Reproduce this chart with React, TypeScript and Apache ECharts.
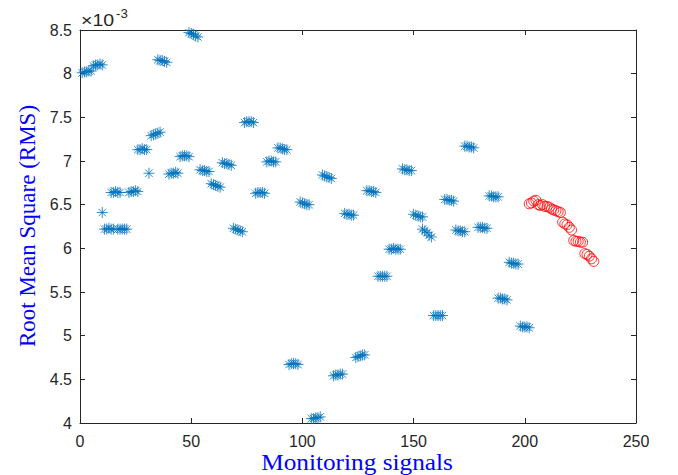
import React, { useEffect, useRef } from "react";
import * as echarts from "echarts";

// Monitoring signal index (blue, training/normal) and RMS value (x 1e-3)
const blueX: number[] = [
  1, 2, 3, 4, 5,
  6, 7, 8, 9, 10,
  10,
  11, 12, 13, 14, 15,
  14, 15, 16, 17, 18,
  17, 18, 19, 20, 21,
  22, 23, 24, 25, 26,
  26, 27, 28, 29, 30,
  31,
  32, 33, 34, 35, 36,
  35, 36, 37, 38, 39,
  40, 41, 42, 43, 44,
  45, 46, 47, 48, 49,
  49, 50, 51, 52, 53,
  54, 55, 56, 57, 58,
  59, 60, 61, 62, 63,
  64, 65, 66, 67, 68,
  69, 70, 71, 72, 73,
  74, 75, 76, 77, 78,
  79, 80, 81, 82, 83,
  84, 85, 86, 87, 88,
  89, 90, 91, 92, 93,
  94, 95, 96, 97, 98,
  99, 100, 101, 102, 103,
  104, 105, 106, 107, 108,
  109, 110, 111, 112, 113,
  114, 115, 116, 117, 118,
  119, 120, 121, 122, 123,
  124, 125, 126, 127, 128,
  129, 130, 131, 132, 133,
  134, 135, 136, 137, 138,
  139, 140, 141, 142, 143, 144,
  145, 146, 147, 148, 149,
  150, 151, 152, 153, 154,
  154, 155, 156, 157, 158,
  159, 160, 161, 162, 163,
  164, 165, 166, 167, 168,
  169, 170, 171, 172, 173,
  173, 174, 175, 176, 177,
  179, 180, 181, 182, 183,
  184, 185, 186, 187, 188,
  188, 189, 190, 191, 192,
  193, 194, 195, 196, 197,
  198, 199, 200, 201, 202,
];

const blueRms: number[] = [
  8.01, 8.02, 8.02, 8.03, 8.03,
  8.09, 8.1, 8.1, 8.11, 8.1,
  6.41,
  6.22, 6.22, 6.23, 6.22, 6.22,
  6.64, 6.64, 6.65, 6.64, 6.64,
  6.22, 6.22, 6.22, 6.22, 6.22,
  6.64, 6.65, 6.65, 6.66, 6.65,
  7.13, 7.13, 7.14, 7.13, 7.13,
  6.86,
  7.29, 7.3, 7.31, 7.32, 7.33,
  8.16, 8.15, 8.15, 8.14, 8.13,
  6.85, 6.86, 6.86, 6.87, 6.86,
  7.05, 7.06, 7.06, 7.06, 7.05,
  8.47, 8.46, 8.45, 8.43, 8.42,
  6.9, 6.89, 6.89, 6.88, 6.88,
  6.74, 6.73, 6.72, 6.71, 6.7,
  6.98, 6.97, 6.97, 6.96, 6.95,
  6.23, 6.22, 6.21, 6.2, 6.19,
  7.44, 7.45, 7.45, 7.45, 7.44,
  6.63, 6.64, 6.64, 6.64, 6.63,
  6.99, 7.0, 7.0, 6.99, 6.99,
  7.15, 7.15, 7.14, 7.13, 7.13,
  4.67, 4.68, 4.68, 4.68, 4.67,
  6.53, 6.52, 6.51, 6.5, 6.5,
  4.05, 4.05, 4.06, 4.06, 4.07,
  6.84, 6.83, 6.82, 6.81, 6.8,
  4.54, 4.55, 4.55, 4.56, 4.56,
  6.4, 6.39, 6.39, 6.38, 6.38,
  4.75, 4.76, 4.77, 4.78, 4.78,
  6.66, 6.66, 6.65, 6.65, 6.64,
  5.68, 5.68, 5.68, 5.68, 5.68,
  5.99, 5.99, 6.0, 5.99, 5.99, 5.99,
  6.91, 6.9, 6.9, 6.89, 6.89,
  6.39, 6.38, 6.37, 6.36, 6.36,
  6.22, 6.2, 6.18, 6.15, 6.13,
  5.23, 5.23, 5.23, 5.23, 5.23,
  6.56, 6.56, 6.55, 6.55, 6.54,
  6.21, 6.2, 6.2, 6.19, 6.19,
  7.17, 7.17, 7.16, 7.16, 7.15,
  6.24, 6.24, 6.24, 6.23, 6.23,
  6.6, 6.6, 6.59, 6.59, 6.59,
  5.43, 5.43, 5.42, 5.42, 5.41,
  5.84, 5.83, 5.83, 5.82, 5.82,
  5.11, 5.1, 5.1, 5.1, 5.09,
];

// Red circles (test / degradation signals)
const redX: number[] = [
  202, 203, 204, 205, 206, 207, 208, 209, 210, 211,
  212, 213, 214, 215, 216, 217, 218, 219, 220, 221,
  222, 223, 224, 225, 226, 227, 228, 229, 230, 231,
];
const redRms: number[] = [
  6.51, 6.52, 6.54, 6.55, 6.5, 6.49, 6.5, 6.48, 6.48, 6.47,
  6.45, 6.44, 6.43, 6.42, 6.41, 6.3, 6.28, 6.27, 6.24, 6.21,
  6.09, 6.08, 6.08, 6.07, 6.07, 5.94, 5.93, 5.91, 5.88, 5.85,
];

const xTicks = { min: 0, max: 250, interval: 50 };
const yTicks = { min: 4, max: 8.5, interval: 0.5 };

const xTitle = "Monitoring signals";
const yTitle = "Root Mean Square (RMS)";
const expBase = "\u00d710";
const expPow = "-3";

const ASTERISK =
  "path://M5,0L5,10M0,5L10,5M1.6,1.6L8.4,8.4M1.6,8.4L8.4,1.6";

export default function App() {
  const ref = useRef<HTMLDivElement>(null);

  useEffect(() => {
    document.body.style.margin = "0";
    if (!ref.current) return;
    const chart = echarts.init(ref.current, undefined, { renderer: "svg" });

    const axisColor = "#262626";
    const labelFont = {
      color: axisColor,
      fontFamily: "Liberation Sans, Arial, sans-serif",
      fontSize: 16,
    };
    const baseAxis = {
      axisLine: { show: true, onZero: false, lineStyle: { color: axisColor, width: 1 } },
      axisTick: { show: true, inside: true, length: 5, lineStyle: { color: axisColor } },
      splitLine: { show: false },
    };

    chart.setOption({
      animation: false,
      backgroundColor: "#ffffff",
      grid: { left: 80, right: 42, top: 30, bottom: 52, containLabel: false },
      xAxis: [
        {
          type: "value",
          ...xTicks,
          ...baseAxis,
          position: "bottom",
          axisLabel: { ...labelFont, margin: 10 },
        },
        {
          type: "value",
          ...xTicks,
          ...baseAxis,
          position: "top",
          axisLabel: { show: false },
        },
      ],
      yAxis: [
        {
          type: "value",
          ...yTicks,
          ...baseAxis,
          position: "left",
          axisLabel: { ...labelFont, margin: 8 },
        },
        {
          type: "value",
          ...yTicks,
          ...baseAxis,
          position: "right",
          axisLabel: { show: false },
        },
      ],
      series: [
        {
          type: "scatter",
          xAxisIndex: 0,
          yAxisIndex: 0,
          symbol: ASTERISK,
          symbolSize: 11,
          itemStyle: { color: "rgba(0,0,0,0)", borderColor: "#0072BD", borderWidth: 1 },
          data: blueX.map((x, i) => [x, blueRms[i]]),
        },
        {
          type: "scatter",
          xAxisIndex: 0,
          yAxisIndex: 0,
          symbol: "circle",
          symbolSize: 10,
          itemStyle: { color: "rgba(0,0,0,0)", borderColor: "#FF0000", borderWidth: 1 },
          data: redX.map((x, i) => [x, redRms[i]]),
        },
      ],
      graphic: [
        {
          type: "text",
          x: 357,
          y: 462,
          scaleX: 1.1,
          style: {
            text: xTitle,
            fill: "#0000FF",
            font: "23px 'Liberation Serif', 'Times New Roman', serif",
            textAlign: "center",
            textVerticalAlign: "middle",
          },
        },
        {
          type: "text",
          x: 27,
          y: 226,
          rotation: Math.PI / 2,
          style: {
            text: yTitle,
            fill: "#0000FF",
            font: "23px 'Liberation Serif', 'Times New Roman', serif",
            textAlign: "center",
            textVerticalAlign: "middle",
          },
        },
        {
          type: "text",
          x: 81,
          y: 20,
          scaleX: 1.15,
          style: {
            text: expBase,
            fill: axisColor,
            font: "17px 'Liberation Sans', Arial, sans-serif",
            textAlign: "left",
            textVerticalAlign: "middle",
          },
        },
        {
          type: "text",
          x: 116,
          y: 14,
          scaleX: 1.1,
          style: {
            text: expPow,
            fill: axisColor,
            font: "12px 'Liberation Sans', Arial, sans-serif",
            textAlign: "left",
            textVerticalAlign: "middle",
          },
        },
      ],
    });

    return () => chart.dispose();
  }, []);

  return <div ref={ref} style={{ width: 678, height: 475 }} />;
}
